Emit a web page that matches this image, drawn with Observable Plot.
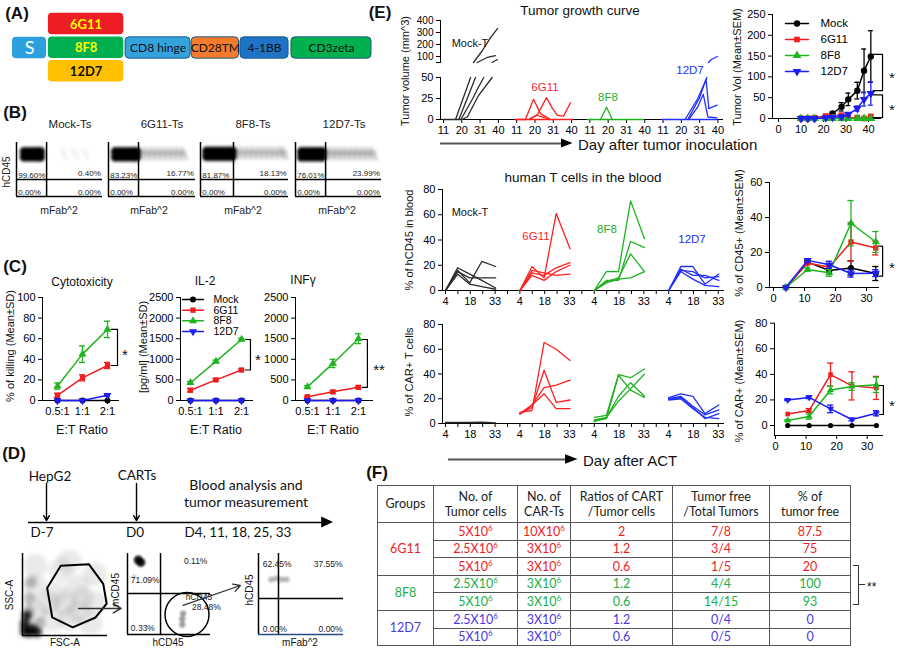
<!DOCTYPE html>
<html><head><meta charset="utf-8">
<script src="https://cdn.jsdelivr.net/npm/d3@7"></script>
<script src="https://cdn.jsdelivr.net/npm/@observablehq/plot@0.6"></script>
<style>
body{margin:0;background:#fff;}
#root{position:relative;width:899px;height:651px;overflow:hidden;background:#fff;font-family:"Liberation Sans",Arial,sans-serif;}
.lbl{position:absolute;white-space:nowrap;line-height:1;}
table.f{position:absolute;left:377px;top:485px;border-collapse:collapse;font-family:Lato,"Open Sans",sans-serif;font-size:12.5px;table-layout:fixed;width:473px;}
table.f td{border:1px solid #555;text-align:center;padding:0;line-height:1.22;}
table.f sup{font-size:8px;line-height:0;vertical-align:5px;}
</style></head><body><div id="root"></div><script>
// ===================== DATA =====================
// (A) CAR construct
const partNames = ["S", "CD8 hinge", "CD28TM", "4-1BB", "CD3zeta"];
const partStart = [0, 31.5, 49.9, 63.5, 77.7];
const partEnd = [9.5, 49.6, 63.1, 76.9, 100];
const partFill = ["#2d9fdc", "#33a3de", "#f47b2b", "#1e73c6", "#03b04f"];
const scfvNames = ["6G11", "8F8", "12D7"];
const scfvFill = ["#ee1c24", "#00b050", "#ffc000"];
const scfvInk = ["#ffff00", "#ffff00", "#111111"];

// (B) flow cytometry of CAR-T cells
const flowTitles = ["Mock-Ts", "6G11-Ts", "8F8-Ts", "12D7-Ts"];
const flowUL = ["99.60%", "83.23%", "81.87%", "76.01%"];
const flowUR = ["0.40%", "16.77%", "18.13%", "23.99%"];
const flowLL = ["0.00%", "0.00%", "0.00%", "0.00%"];
const flowLR = ["0.00%", "0.00%", "0.00%", "0.00%"];
const flowQX = [35, 34.5, 37.5, 35];
const flowQY = [31.5, 31.5, 31.5, 31.5];
const flowCoreX = [[9, 14, 19, 24, 28], [8, 13, 18, 23, 28, 32], [7, 12, 17, 22, 27, 32, 36], [7, 12, 17, 22, 27, 31]];
const flowCoreY = [78, 78, 79, 78];
const flowTailX = [[55, 68, 80], [38, 44, 50, 56, 62, 68, 74, 80, 86], [42, 48, 54, 60, 66, 72, 78, 84, 90, 95], [36, 42, 48, 54, 60, 66, 72, 78, 84, 90]];
const flowTailO = [0.06, 0.28, 0.28, 0.3];

// (C) in vitro function
const groups = ["Mock", "6G11", "8F8", "12D7"];
const etRatio = ["0.5:1", "1:1", "2:1"];
const cytoMock = [0, 0, 0], cyto6G11 = [5, 22, 34], cyto8F8 = [14, 45, 69], cyto12D7 = [0, 0, 5];
const cytoErr6G11 = [2, 3, 3], cytoErr8F8 = [3, 8, 8], cytoErr12D7 = [0, 0, 1];
const il2Mock = [0, 0, 0], il26G11 = [250, 500, 740], il28F8 = [430, 950, 1480], il212D7 = [0, 0, 0];
const il2Err6G11 = [40, 30, 25], il2Err8F8 = [30, 30, 30];
const ifnMock = [0, 0, 0], ifn6G11 = [90, 210, 320], ifn8F8 = [330, 900, 1500], ifn12D7 = [0, 0, 0];
const ifnErr6G11 = [20, 25, 30], ifnErr8F8 = [30, 100, 120];

// (D) gating
const gateX = [29, 45, 78, 95, 99, 86, 59, 35, 29];
const gateY = [58, 85, 87, 63, 39, 22, 10, 22, 58];
const d2Labels = ["71.09%", "0.11%", "0.33%"];
const d3Labels = ["62.45%", "37.55%", "0.00%", "0.00%"];
const timelineDays = [-7, 0];

// (E) tumor growth (individual mice: [day, volume])
const tumorTickDays = [11, 21, 31, 41];
const tumorTickLabels = ["11", "20", "31", "40"];
const tumorMockLow = [[[11, 0], [21, 0]], [[17.6, 0], [25.8, 50]], [[19.4, 0], [28.5, 50]], [[20.5, 0], [27, 25], [29.5, 36], [33, 50]], [[21, 0], [24, 3], [30, 28], [37.6, 50]]];
const tumorMockHigh = [[[27.4, 50], [32.3, 150], [36.7, 258], [40.5, 333]], [[29.4, 50], [34.9, 92], [39.4, 108]], [[37.5, 50], [40.5, 75]]];
const tumor6G11 = [[[10.3, 0], [41.5, 0]], [[10.3, 0], [15.8, 0], [20.2, 24], [24, 7], [29.5, 0]], [[17.4, 0], [22.4, 6], [27.3, 26], [30.6, 13], [33.3, 5], [36.6, 4], [40.4, 20]], [[18, 0], [22, 5], [25, 3], [29, 0]]];
const tumor8F8 = [[[9.7, 0], [40.3, 0]], [[16.8, 0], [20.1, 14.6], [23.3, 0]]];
const tumor12D7Low = [[[10.5, 0], [40.5, 0]], [[23, 0], [30, 25], [35, 50]], [[24.5, 0], [31, 26], [34.5, 48], [36, 13], [40.5, 17]], [[25, 0], [30, 15], [33, 30], [35.5, 3], [40.5, 2]]];
const tumor12D7High = [[[35.8, 50], [37.4, 75], [40.7, 100]]];
// tumor volume mean ± SEM
const volDays = [10, 13, 16, 21, 24, 28, 31, 35, 38, 41];
const volMock = [0, 0, 0, 2, 12, 28, 46, 67, 115, 149], volErrMock = [0, 0, 0, 1, 3, 10, 15, 20, 52, 62];
const vol6G11 = [0, 0, 2, 6, 4, 8, 2, 2, 0, 5], volErr6G11 = [0, 0, 1, 2, 1, 3, 1, 1, 0, 2];
const vol8F8 = [0, 0, 0, 0, 0, 0, 0, 0, 0, 0];
const vol12D7 = [0, 0, 0, 2, 3, 4, 10, 24, 46, 60], volErr12D7 = [0, 0, 0, 1, 1, 2, 3, 6, 16, 28];
// blood: days after ACT
const actDays = [4, 11, 18, 25, 33];
const bloodMock = [[0, 18, 13, 8, 2], [0, 16, 6, 23, 19], [0, 15, 10, 10, 10], [0, 13, 5, 3, 1]];
const blood6G11 = [[0, 19, 10, 61, 33], [0, 14, 12, 18, 22], [0, 12, 8, 15, 20], [0, 16, 14, 12, 13]];
const blood8F8 = [[0, 15, 15, 71, 41], [0, 8, 8, 39, 34], [0, 7, 10, 29, 15], [0, 6, 9, 10, 15]];
const blood12D7 = [[0, 19, 19, 5, 13], [0, 17, 12, 12, 8], [0, 15, 9, 4, 3], [0, 16, 15, 10, 11]];
const carMock = [[0.8, 0.8, 0.8, 1, 0.5]];
const car6G11 = [[9, 10.5, 65.5, 60, 51], [8, 13, 43, 17, 19], [8, 15, 29, 31, 35], [7.5, 15, 24, 12, 12]];
const car8F8 = [[5, 6.5, 39.5, 37, 44], [3, 5, 18, 28, 40], [2.4, 4, 39, 27, 21], [1.5, 4.5, 22, 33, 22]];
const car12D7 = [[21, 24, 22, 8, 15], [20, 22, 14, 7, 11], [19.5, 21, 13, 4, 8], [19, 20, 12, 5, 4]];
// means ± SEM
const cd45Mock = [0, 14.5, 9.7, 11.2, 8], cd45ErrMock = [0, 1, 1, 4, 4];
const cd456G11 = [0, 14, 11.6, 26, 22.6], cd45Err6G11 = [0, 1, 1, 11, 4];
const cd458F8 = [0, 10.3, 8.4, 36.7, 26], cd45Err8F8 = [0, 1, 2, 13, 6];
const cd4512D7 = [0, 15.5, 13, 8, 8.2], cd45Err12D7 = [0, 1, 2, 2, 2];
const carmMock = [0, 0, 0, 0, 0];
const carm6G11 = [9, 11.7, 39.8, 31, 29.4], carmErr6G11 = [0, 1.5, 9, 11, 9];
const carm8F8 = [4, 7, 27.8, 30.5, 31.8], carmErr8F8 = [0.5, 2, 3, 3, 6];
const carm12D7 = [20, 22, 13, 4.7, 9.6], carmErr12D7 = [0.5, 1, 3, 1, 2];

// (F) table
const tblGroups = ["6G11", "6G11", "6G11", "8F8", "8F8", "12D7", "12D7"];
const tblTumorCells = ["5", "2.5", "5", "2.5", "5", "2.5", "5"];
const tblCarTs = ["10", "3", "3", "3", "3", "3", "3"];
const tblRatio = ["2", "1.2", "0.6", "1.2", "0.6", "1.2", "0.6"];
const tblFree = ["7/8", "3/4", "1/5", "4/4", "14/15", "0/4", "0/5"];
const tblPct = ["87.5", "75", "20", "100", "93", "0", "0"];

// ===================== HELPERS =====================
const W = 899, H = 651;
const root = document.getElementById("root");
const FONT = '"Liberation Sans", Arial, sans-serif';
const CAL = 'Lato, "Open Sans", sans-serif';
const COL = {Mock: "#000000", "6G11": "#f01e1e", "8F8": "#1fb41f", "12D7": "#1c1cf5"};
const LCOL = {Mock: "#2a2a2a", "6G11": "#ff1f1f", "8F8": "#1fb21f", "12D7": "#2030ff"};
const TCOL = {"6G11": "#ee1c25", "8F8": "#1aaf4a", "12D7": "#4a3ae0"};
const triDown = {
  draw(ctx, size) {
    const a = Math.sqrt(size * 4 / Math.sqrt(3));
    const h = a * Math.sqrt(3) / 2;
    ctx.moveTo(0, 2 * h / 3);
    ctx.lineTo(a / 2, -h / 3);
    ctx.lineTo(-a / 2, -h / 3);
    ctx.closePath();
  }
};
const SYM = {Mock: "circle", "6G11": "square", "8F8": "triangle", "12D7": triDown};

function lbl(text, x, y, o = {}) {
  const d = document.createElement("div");
  d.className = "lbl";
  if (o.html) d.innerHTML = text; else d.textContent = text;
  d.style.left = x + "px"; d.style.top = y + "px";
  d.style.fontSize = (o.size || 11) + "px";
  d.style.color = o.color || "#111";
  if (o.bold) d.style.fontWeight = "bold";
  if (o.font) d.style.fontFamily = o.font;
  let t = o.anchor === "start" ? "translate(0,-50%)" : "translate(-50%,-50%)";
  if (o.rot) t += " rotate(" + o.rot + "deg)";
  d.style.transform = t;
  root.appendChild(d);
  return d;
}

function overlay(f, marks, x = {axis: null}, y = {axis: null}, style = {}) {
  const svg = Plot.plot({
    width: W, height: H,
    marginLeft: f[0], marginRight: W - f[1], marginTop: f[2], marginBottom: H - f[3],
    style: Object.assign({background: "transparent", fontFamily: FONT, fontSize: "11px", color: "black", overflow: "visible"}, style),
    color: {type: "identity"},
    x, y, marks
  });
  svg.style.position = "absolute"; svg.style.left = "0px"; svg.style.top = "0px";
  root.appendChild(svg);
  return svg;
}
const ax = (o) => Object.assign({label: null, tickSize: 4, tickPadding: 3, line: true, tickFormat: d => String(d)}, o);

function seriesMarks(xs, vals, errs, name, cw, r, sw = 1.5) {
  const rows = vals.map((v, i) => ({x: xs[i], v, e: errs ? errs[i] : 0}));
  const er = rows.filter(d => d.e > 0);
  const c = COL[name];
  return [
    Plot.line(rows, {x: "x", y: "v", stroke: c, strokeWidth: sw}),
    Plot.ruleX(er, {x: "x", y1: d => d.v - d.e, y2: d => d.v + d.e, stroke: c, strokeWidth: 1.3}),
    Plot.ruleY(er, {y: d => d.v + d.e, x1: d => d.x - cw, x2: d => d.x + cw, stroke: c, strokeWidth: 1.3}),
    Plot.ruleY(er, {y: d => d.v - d.e, x1: d => d.x - cw, x2: d => d.x + cw, stroke: c, strokeWidth: 1.3}),
    Plot.dot(rows, {x: "x", y: "v", fill: c, symbol: SYM[name], r})
  ];
}
function bracket(xFrom, xb, v1, v2) {
  return Plot.line([{x: xFrom, y: v1}, {x: xb, y: v1}, {x: xb, y: v2}, {x: xFrom, y: v2}], {x: "x", y: "y", stroke: "black", strokeWidth: 1.2});
}
function legendOverlay(x0, x1, tx, y0, y1, fs, r) {
  const items = groups.map((n, i) => ({n, i}));
  overlay([x0, x1, y0, y1], [
    ...groups.map((n, i) => Plot.line([{x: 0, y: i}, {x: 1, y: i}], {x: "x", y: "y", stroke: COL[n], strokeWidth: 1.5})),
    ...groups.map((n, i) => Plot.dot([{x: 0.5, y: i}], {x: "x", y: "y", fill: COL[n], symbol: SYM[n], r})),
    Plot.text(items, {x: () => 1, y: "i", text: "n", textAnchor: "start", dx: tx - x1, fontSize: fs})
  ], {domain: [0, 1], axis: null}, {domain: [0, 3], axis: null, reverse: true});
}

// ===================== (A) =====================
lbl("(A)", 17, 13, {size: 17, bold: true});
const partRows = partNames.map((n, i) => ({name: n, x1: partStart[i], x2: partEnd[i], fill: partFill[i], stroke: n === "S" ? "none" : "#1d5b86", ink: n === "S" ? "#ffffff" : "#111111"}));
const scfvRows = scfvNames.map((n, i) => ({name: n, row: i, fill: scfvFill[i], ink: scfvInk[i]}));
overlay([12, 371, 12, 83], [
  Plot.rect(scfvRows, {x1: () => 10, x2: () => 31, y1: d => d.row - 0.47, y2: d => d.row + 0.44, fill: "fill", rx: 4}),
  Plot.text(scfvRows, {x: () => 20.5, y: "row", text: "name", fill: "ink", fontWeight: "bold", fontSize: 13, fontFamily: CAL}),
  Plot.rect(partRows, {x1: "x1", x2: "x2", y1: () => 0.55, y2: () => 1.45, fill: "fill", stroke: "stroke", strokeWidth: 1, rx: 4}),
  Plot.text(partRows.filter(d => d.name !== "S"), {x: d => (d.x1 + d.x2) / 2, y: () => 1, text: "name", fill: "ink", fontSize: 12, fontFamily: CAL}),
  Plot.text(partRows.filter(d => d.name === "S"), {x: d => (d.x1 + d.x2) / 2, y: () => 1, text: "name", fill: "ink", fontSize: 18, fontFamily: CAL})
], {domain: [0, 100], axis: null}, {domain: [-0.5, 2.5], axis: null, reverse: true});

// ===================== (B) =====================
lbl("(B)", 15, 112, {size: 17, bold: true});
const flowFramesB = [[16, 102], [108, 195], [200, 288], [295, 381]];
const bTitleX = [70, 162, 253, 344], bAxisX = [59, 149, 243, 337];
function flowPlot(f, qx, qy, labels, fs, bottomColor) {
  return overlay(f, [
    Plot.ruleX([qx], {stroke: "black", strokeWidth: 1.5}),
    Plot.ruleY([qy], {stroke: "black", strokeWidth: 1.5}),
    Plot.ruleX([0], {stroke: "black", strokeWidth: 1.5}),
    Plot.ruleY([0], {stroke: bottomColor || "black", strokeWidth: 1.5}),
    Plot.text(labels.filter(d => d.a === "start"), {x: "x", y: "y", text: "t", textAnchor: "start", lineAnchor: "bottom", fontSize: fs, fill: "#222"}),
    Plot.text(labels.filter(d => d.a === "end"), {x: "x", y: "y", text: "t", textAnchor: "end", lineAnchor: "bottom", fontSize: fs, fill: "#222"}),
    Plot.text(labels.filter(d => d.a === "middle"), {x: "x", y: "y", text: "t", textAnchor: "middle", lineAnchor: "bottom", fontSize: fs, fill: "#222"})
  ], {domain: [0, 100], axis: null}, {domain: [0, 100], axis: null});
}
function cloud(f, sets, blur = 1) {
  overlay(f, sets.map(s => Plot.dot(s.pts.map(([x, y]) => ({x, y})), {x: "x", y: "y", r: s.r, fill: s.c || "black", fillOpacity: s.o})),
    {domain: [0, 100], axis: null}, {domain: [0, 100], axis: null}, {filter: `blur(${blur}px)`});
}
flowFramesB.forEach(([L, R], i) => {
  const f = [L, R, 142, 196];
  const cy = flowCoreY[i];
  cloud(f, [
    {pts: flowTailX[i].map(x => [x, cy + 2]), r: 3.2, o: flowTailO[i], c: "#222"},
    {pts: flowTailX[i].map(x => [x + 3, cy - 7]), r: 2.4, o: flowTailO[i] * 0.7, c: "#222"},
    {pts: flowTailX[i].map(x => [x - 2, cy + 10]), r: 2.4, o: flowTailO[i] * 0.6, c: "#222"},
    {pts: flowCoreX[i].map(x => [x, cy - 5]), r: 4.6, o: 1},
    {pts: flowCoreX[i].map(x => [x, cy + 5]), r: 4.6, o: 1}
  ], 1.4);
  flowPlot(f, flowQX[i], flowQY[i], [
    {x: 2, y: flowQY[i] + 3, t: flowUL[i], a: "start"}, {x: 98, y: flowQY[i] + 6, t: flowUR[i], a: "end"},
    {x: 2, y: 3, t: flowLL[i], a: "start"}, {x: 98, y: 3, t: flowLR[i], a: "end"}
  ], 8);
  lbl(flowTitles[i], bTitleX[i], 125, {size: 11.5, color: "#222"});
  lbl("mFab^2", bAxisX[i], 210, {size: 10.5, color: "#222"});
});
lbl("hCD45", 7, 172, {size: 10, rot: -90, color: "#222"});

// ===================== (C) =====================
lbl("(C)", 15, 266, {size: 17, bold: true});
const xi = [0, 1, 2];
const etAxis = ax({ticks: xi, tickFormat: d => etRatio[d]});
overlay([42, 118, 297, 400], [
  ...seriesMarks(xi, cytoMock, null, "Mock", 0.12, 3),
  ...seriesMarks(xi, cyto6G11, cytoErr6G11, "6G11", 0.12, 3),
  ...seriesMarks(xi, cyto8F8, cytoErr8F8, "8F8", 0.12, 3),
  ...seriesMarks(xi, cyto12D7, cytoErr12D7, "12D7", 0.12, 3),
  bracket(2.15, 2.4, 69, 34)
], Object.assign({domain: [-0.6, 2.44]}, etAxis), ax({domain: [0, 100], ticks: [0, 20, 40, 60, 80, 100]}));
overlay([180, 252, 297, 400], [
  ...seriesMarks(xi, il2Mock, null, "Mock", 0.12, 3),
  ...seriesMarks(xi, il26G11, il2Err6G11, "6G11", 0.12, 3),
  ...seriesMarks(xi, il28F8, il2Err8F8, "8F8", 0.12, 3),
  ...seriesMarks(xi, il212D7, null, "12D7", 0.12, 3),
  bracket(2.15, 2.35, 1480, 740)
], Object.assign({domain: [-0.39, 2.43]}, etAxis), ax({domain: [0, 2500], ticks: [0, 500, 1000, 1500, 2000, 2500]}));
overlay([295, 372, 297, 400], [
  ...seriesMarks(xi, ifnMock, null, "Mock", 0.12, 3),
  ...seriesMarks(xi, ifn6G11, ifnErr6G11, "6G11", 0.12, 3),
  ...seriesMarks(xi, ifn8F8, ifnErr8F8, "8F8", 0.12, 3),
  ...seriesMarks(xi, ifn12D7, null, "12D7", 0.12, 3),
  bracket(2.15, 2.35, 1480, 320)
], Object.assign({domain: [-0.47, 2.55]}, etAxis), ax({domain: [0, 2500], ticks: [0, 500, 1000, 1500, 2000, 2500]}));
legendOverlay(182, 203, 213, 299, 331, 10.5, 3);
lbl("Cytotoxicity", 82, 282, {size: 12});
lbl("IL-2", 205, 281, {size: 12});
lbl("INFγ", 303, 280, {size: 12});
lbl("% of killing (Mean±SD)", 10, 346, {size: 11, rot: -90});
lbl("[pg/ml] (Mean±SD)", 143, 347, {size: 11, rot: -90});
[82, 216, 333].forEach(x => lbl("E:T Ratio", x, 430, {size: 12.5}));
lbl("*", 125, 354, {size: 15});
lbl("*", 258, 359, {size: 15});
lbl("**", 379, 369, {size: 15});

// ===================== (D) =====================
lbl("(D)", 14, 453, {size: 17, bold: true});
overlay([28, 333, 483, 522], [
  Plot.ruleY([{y: 0, x1: -8.4, x2: 14.5}], {y: "y", x1: "x1", x2: "x2", stroke: "black", strokeWidth: 1.5}),
  Plot.areaY([{x: 14.4, y1: -0.14, y2: 0.14}, {x: 15.32, y1: 0, y2: 0}], {x: "x", y1: "y1", y2: "y2", fill: "black"}),
  Plot.arrow(timelineDays.map(d => ({x: d})), {x1: "x", x2: "x", y1: () => 1, y2: () => 0.05, stroke: "black", strokeWidth: 1.4, headLength: 6})
], {domain: [-8.4, 15.32], axis: null}, {domain: [0, 1], axis: null});
lbl("HepG2", 50, 477, {size: 13.5, font: CAL});
lbl("CARTs", 137, 476, {size: 13.5, font: CAL});
lbl("Blood analysis and", 246, 485, {size: 14, font: CAL});
lbl("tumor measurement", 246, 502, {size: 14, font: CAL});
lbl("D-7", 42, 533, {size: 13.5, font: CAL});
lbl("D0", 135, 533, {size: 13.5, font: CAL});
lbl("D4, 11, 18, 25, 33", 238, 533, {size: 13.5, font: CAL});
const fD1 = [22, 107, 553, 635], fD2 = [127, 210, 553, 634], fD3 = [258, 343, 553, 634];
cloud(fD1, [
  {pts: [[15, 30], [15, 60], [15, 85], [35, 20], [40, 50], [45, 80], [65, 30], [65, 60], [85, 40], [85, 75], [55, 90], [30, 40], [50, 40], [70, 45], [55, 20], [80, 15]], r: 12, o: 0.12, c: "#555"},
  {pts: [[8, 45], [10, 65], [20, 15], [8, 30]], r: 6, o: 0.3, c: "#333"},
  {pts: [[3, 5], [8, 4], [3, 14], [12, 8], [5, 24], [17, 4]], r: 5, o: 0.85}
], 2.2);
overlay(fD1, [
  Plot.ruleX([0], {stroke: "black", strokeWidth: 1.5}),
  Plot.ruleY([0], {stroke: "black", strokeWidth: 1.5}),
  Plot.line(gateX.map((x, i) => ({x, y: gateY[i]})), {x: "x", y: "y", stroke: "black", strokeWidth: 2}),
  Plot.arrow([{x1: 66, x2: 116, y: 33}], {x1: "x1", x2: "x2", y1: "y", y2: "y", stroke: "#333", strokeWidth: 1.5, headLength: 9})
], {domain: [0, 100], axis: null}, {domain: [0, 100], axis: null});
cloud(fD2, [
  {pts: [[13, 92], [16, 89]], r: 4.5, o: 0.9},
  {pts: [[66, 12], [66, 19], [67, 26]], r: 3, o: 0.5, c: "#333"},
  {pts: [[8, 72]], r: 1.5, o: 0.4}
], 1.2);
flowPlot(fD2, 39.8, 50.6, [
  {x: 4, y: 63, t: d2Labels[0], a: "start"}, {x: 68, y: 87, t: d2Labels[1], a: "start"},
  {x: 4, y: 4, t: d2Labels[2], a: "start"},
  {x: 86, y: 42, t: "hCD45", a: "middle"}, {x: 95, y: 30, t: "28.48%", a: "middle"}
], 8.5);
overlay(fD2, [
  Plot.dot([{x: 71.7, y: 24.7}], {x: "x", y: "y", r: 22, stroke: "black", strokeWidth: 1.5, fill: "none"}),
  Plot.arrow([{x1: 67, y1: 36, x2: 136, y2: 60.5}], {x1: "x1", y1: "y1", x2: "x2", y2: "y2", stroke: "#333", strokeWidth: 1.3, headLength: 9})
], {domain: [0, 100], axis: null}, {domain: [0, 100], axis: null});
cloud(fD3, [{pts: [[15, 68], [21, 69], [27, 68], [33, 68]], r: 3, o: 0.35, c: "#333"}], 1.2);
flowPlot(fD3, 23.5, 44.4, [
  {x: 5, y: 83, t: d3Labels[0], a: "start"}, {x: 99, y: 83, t: d3Labels[1], a: "end"},
  {x: 5, y: 3, t: d3Labels[2], a: "start"}, {x: 99, y: 3, t: d3Labels[3], a: "end"}
], 8.5, "#2c4a8a");
lbl("SSC-A", 10, 595, {size: 10, rot: -90});
lbl("FSC-A", 65, 643, {size: 10});
lbl("mCD45", 116, 590, {size: 10, rot: -90});
lbl("hCD45", 168, 643, {size: 10});
lbl("hCD45", 250, 590, {size: 10, rot: -90});
lbl("mFab^2", 300, 643, {size: 10});

// ===================== (E) =====================
lbl("(E)", 380, 12, {size: 17, bold: true});
const tumorTicks = [0, 1, 2, 3].flatMap(g => tumorTickDays.map(d => d + 40 * g));
const tumorFmt = d => tumorTickLabels[tumorTickDays.indexOf(((d - 11) % 40) + 11)];
const tumorX = {domain: [9.36, 163.5]};
function tumorRows(lines, g) {
  return lines.flatMap((ln, li) => ln.map(([d, v]) => ({x: d + 40 * g, y: v, id: li})));
}
const tl = (rows, c) => Plot.line(rows, {x: "x", y: "y", z: "id", stroke: c, strokeWidth: 1.3});
overlay([440, 722, 20, 62], [
  tl(tumorRows(tumorMockHigh, 0), LCOL.Mock),
  tl(tumorRows(tumor12D7High, 3), LCOL["12D7"])
], Object.assign({axis: null}, tumorX), ax({domain: [50, 400], ticks: [50, 100, 200, 300, 400], tickFormat: d => d === 50 ? "" : String(d)}), {fontSize: "10px"});
overlay([440, 722, 77, 119], [
  tl(tumorRows(tumorMockLow, 0), LCOL.Mock),
  tl(tumorRows(tumor6G11, 1), LCOL["6G11"]),
  tl(tumorRows(tumor8F8, 2), LCOL["8F8"]),
  tl(tumorRows(tumor12D7Low, 3), LCOL["12D7"]),
  Plot.ruleY([{y: -28.6, x1: 9.36, x2: 76}], {y: "y", x1: "x1", x2: "x2", stroke: "#555", strokeWidth: 2}),
  Plot.areaY([{x: 75.5, y1: -34, y2: -23.2}, {x: 81.8, y1: -28.6, y2: -28.6}], {x: "x", y1: "y1", y2: "y2", fill: "black"})
], ax(Object.assign({ticks: tumorTicks, tickFormat: tumorFmt}, tumorX)), ax({domain: [0, 50], ticks: [0, 25, 50]}));
lbl("Tumor growth curve", 580, 11, {size: 13.5});
lbl("Tumor volume (mm^3)", 405, 71, {size: 11, rot: -90});
lbl("Mock-T", 470, 43, {size: 11});
lbl("6G11", 545, 88, {size: 11.5, color: LCOL["6G11"]});
lbl("8F8", 608, 98, {size: 11.5, color: LCOL["8F8"]});
lbl("12D7", 690, 71, {size: 11.5, color: LCOL["12D7"]});
lbl("Day after tumor inoculation", 578, 144, {size: 15, anchor: "start"});

overlay([772, 880, 14, 118], [
  ...seriesMarks(volDays, volMock, volErrMock, "Mock", 1.1, 3.2),
  ...seriesMarks(volDays, vol6G11, volErr6G11, "6G11", 1.1, 3.2),
  ...seriesMarks(volDays, vol8F8, null, "8F8", 1.1, 3.2),
  ...seriesMarks(volDays, vol12D7, volErr12D7, "12D7", 1.1, 3.2),
  bracket(42, 46.2, 154, 67),
  bracket(42, 46.2, 57, 2)
], ax({domain: [-2.67, 45.3], ticks: [0, 10, 20, 30, 40]}), ax({domain: [0, 250], ticks: [0, 50, 100, 150, 200, 250]}));
legendOverlay(785, 808, 820, 23, 71, 11.5, 3.2);
lbl("Tumor Vol (Mean±SEM)", 737, 67, {size: 11, rot: -90});
lbl("*", 892, 77, {size: 15});
lbl("*", 892, 109, {size: 15});

const actTicks = d3.range(23).map(k => 4 + k * 43 / 6);
const actFmt = d => ({0: "4", 2: "18", 4: "33"})[Math.round((d - 4) * 6 / 43) % 6] || "";
const actX = ax({domain: [2.27, 164.7], ticks: actTicks, tickFormat: actFmt});
function actRows(lines, g) {
  return lines.flatMap((vals, li) => vals.map((v, i) => ({x: actDays[i] + 43 * g, y: v, id: li})));
}
overlay([442, 723, 189, 290], [
  tl(actRows(bloodMock, 0), LCOL.Mock),
  tl(actRows(blood6G11, 1), LCOL["6G11"]),
  tl(actRows(blood8F8, 2), LCOL["8F8"]),
  tl(actRows(blood12D7, 3), LCOL["12D7"])
], actX, ax({domain: [0, 80], ticks: [0, 20, 40, 60, 80]}));
lbl("human T cells in the blood", 583, 178, {size: 13.5});
lbl("% of hCD45 in blood", 409, 240, {size: 11, rot: -90});
lbl("Mock-T", 470, 212, {size: 11});
lbl("6G11", 536, 237, {size: 11.5, color: LCOL["6G11"]});
lbl("8F8", 607, 230, {size: 11.5, color: LCOL["8F8"]});
lbl("12D7", 692, 240, {size: 11.5, color: LCOL["12D7"]});

overlay([442, 723, 324, 423], [
  tl(actRows(carMock, 0), LCOL.Mock),
  tl(actRows(car6G11, 1), LCOL["6G11"]),
  tl(actRows(car8F8, 2), LCOL["8F8"]),
  tl(actRows(car12D7, 3), LCOL["12D7"]),
  Plot.ruleY([{y: -29.1, x1: 5.7, x2: 74}], {y: "y", x1: "x1", x2: "x2", stroke: "#555", strokeWidth: 2}),
  Plot.areaY([{x: 73.4, y1: -32.9, y2: -25.3}, {x: 80.6, y1: -29.1, y2: -29.1}], {x: "x", y1: "y1", y2: "y2", fill: "black"})
], actX, ax({domain: [0, 80], ticks: [0, 20, 40, 60, 80]}));
lbl("% of CAR+ T cells", 409, 372, {size: 11, rot: -90});
lbl("Day after ACT", 583, 460, {size: 15, anchor: "start"});

overlay([769, 878, 182, 287], [
  ...seriesMarks(actDays, cd45Mock, cd45ErrMock, "Mock", 1, 3),
  ...seriesMarks(actDays, cd456G11, cd45Err6G11, "6G11", 1, 3),
  ...seriesMarks(actDays, cd458F8, cd45Err8F8, "8F8", 1, 3),
  ...seriesMarks(actDays, cd4512D7, cd45Err12D7, "12D7", 1, 3),
  bracket(34, 35.2, 23.6, 6.5)
], ax({domain: [-1.29, 33.87], ticks: [0, 10, 20, 30]}), ax({domain: [0, 60], ticks: [0, 20, 40, 60]}));
lbl("% of CD45+ (Mean±SEM)", 739, 233, {size: 11, rot: -90});
lbl("*", 892, 267, {size: 15});

overlay([774, 882, 322.7, 435], [
  ...seriesMarks(actDays, carmMock, null, "Mock", 1, 2.6),
  ...seriesMarks(actDays, carm6G11, carmErr6G11, "6G11", 1, 2.6),
  ...seriesMarks(actDays, carm8F8, carmErr8F8, "8F8", 1, 2.6),
  ...seriesMarks(actDays, carm12D7, carmErr12D7, "12D7", 1, 2.6),
  bracket(34, 35.3, 31.3, 8.6)
], ax({domain: [-0.33, 35], ticks: [0, 10, 20, 30]}), ax({domain: [-7.8, 80], ticks: [0, 20, 40, 60, 80]}));
lbl("% of CAR+ (Mean±SEM)", 739, 381, {size: 11, rot: -90});
lbl("*", 892, 405, {size: 15});

// ===================== (F) =====================
lbl("(F)", 377, 472, {size: 17, bold: true});
const tbl = document.createElement("table");
tbl.className = "f";
const colW = [56, 84, 53, 102, 97, 81];
let html = "<colgroup>" + colW.map(w => `<col style="width:${w}px">`).join("") + "</colgroup>";
const heads = ["Groups", "No. of<br>Tumor cells", "No. of<br>CAR-Ts", "Ratios of CART<br>/Tumor cells", "Tumor free<br>/Total Tumors", "% of<br>tumor free"];
html += `<tr style="height:37px">` + heads.map(h => `<td style="color:#222">${h}</td>`).join("") + "</tr>";
tblGroups.forEach((g, i) => {
  const c = TCOL[g];
  html += `<tr style="height:17.6px;color:${c}">`;
  if (i === 0 || tblGroups[i - 1] !== g) {
    const span = tblGroups.filter(x => x === g).length;
    html += `<td rowspan="${span}">${g}</td>`;
  }
  html += `<td>${tblTumorCells[i]}X10<sup>6</sup></td><td>${tblCarTs[i]}X10<sup>6</sup></td><td>${tblRatio[i]}</td><td>${tblFree[i]}</td><td>${tblPct[i]}</td></tr>`;
});
tbl.innerHTML = html;
root.appendChild(tbl);
const br = document.createElement("div");
Object.assign(br.style, {position: "absolute", left: "853px", top: "565px", width: "5px", height: "38px", borderTop: "1px solid #333", borderRight: "1px solid #333", borderBottom: "1px solid #333"});
root.appendChild(br);
const br2 = document.createElement("div");
Object.assign(br2.style, {position: "absolute", left: "859px", top: "584px", width: "6px", height: "0px", borderTop: "1px solid #333"});
root.appendChild(br2);
lbl("**", 867, 587, {size: 12, anchor: "start"});
</script></body></html>
